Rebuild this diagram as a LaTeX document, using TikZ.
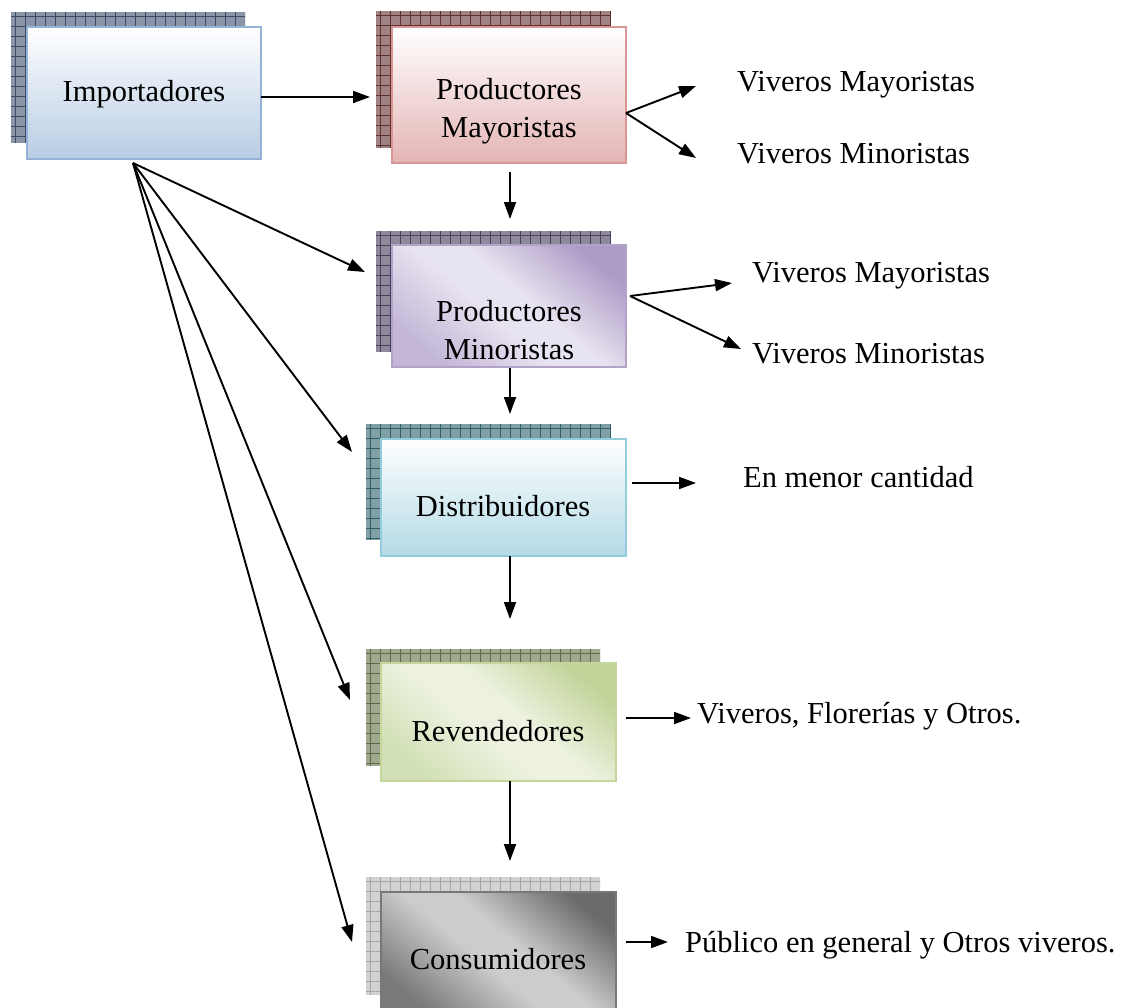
\documentclass[tikz,border=0pt]{standalone}
\usepackage{fontspec}
\setmainfont{Liberation Serif}
\usetikzlibrary{arrows.meta}
\definecolor{impS}{HTML}{8A96A8}\definecolor{impL}{HTML}{3B4A66}
\definecolor{pmS}{HTML}{A08282}\definecolor{pmL}{HTML}{5E2F2F}
\definecolor{pnS}{HTML}{8E8A9B}\definecolor{pnL}{HTML}{4A3D5E}
\definecolor{diS}{HTML}{80A0A6}\definecolor{diL}{HTML}{2F5F66}
\definecolor{reS}{HTML}{A0A890}\definecolor{reL}{HTML}{5B6A40}
\definecolor{coS}{HTML}{D2D2D2}\definecolor{coL}{HTML}{A5A5A5}
\pgfdeclareverticalshading{pminshade}{100bp}{%
  rgb(0bp)=(0.76,0.71,0.84); rgb(24bp)=(0.76,0.71,0.84); rgb(45bp)=(0.91,0.89,0.94);
  rgb(55bp)=(0.91,0.89,0.94); rgb(76bp)=(0.68,0.61,0.78); rgb(100bp)=(0.68,0.61,0.78)}
\pgfdeclareverticalshading{revshade}{100bp}{%
  rgb(0bp)=(0.82,0.88,0.71); rgb(24bp)=(0.82,0.88,0.71); rgb(45bp)=(0.93,0.95,0.88);
  rgb(55bp)=(0.93,0.95,0.88); rgb(76bp)=(0.76,0.83,0.60); rgb(100bp)=(0.76,0.83,0.60)}
\pgfdeclareverticalshading{conshade}{100bp}{%
  rgb(0bp)=(0.48,0.48,0.48); rgb(24bp)=(0.48,0.48,0.48); rgb(45bp)=(0.80,0.80,0.80);
  rgb(55bp)=(0.80,0.80,0.80); rgb(76bp)=(0.42,0.42,0.42); rgb(100bp)=(0.42,0.42,0.42)}
\newcommand\shadowgrid[6]{%
  \fill[#5] (#1,#2) rectangle (#3,#4);
  \begin{scope}
    \clip (#1,#2) rectangle (#3,#4);
    \foreach \i in {0,...,24} \draw[#6, line width=0.9pt] (#1+4+\i*10,#2) -- (#1+4+\i*10,#4);
    \foreach \i in {0,...,14} \draw[#6, line width=0.9pt] (#1,#2+4+\i*10) -- (#3,#2+4+\i*10);
  \end{scope}}
\begin{document}
\begin{tikzpicture}[x=1pt,y=-1pt,
  txt/.style={font=\fontsize{30.5}{38}\selectfont, inner sep=0pt, align=center},
  boxn/.style={draw, line width=2.2pt, minimum width=#1, inner sep=0pt},
  arr/.style={line width=1.9pt, -{Triangle[length=17pt,width=12pt]}}]
\useasboundingbox (0,0) rectangle (1127,1007);
% shadows
\shadowgrid{11}{12}{245}{143}{impS}{impL}
\shadowgrid{376}{11}{611}{148}{pmS}{pmL}
\shadowgrid{376}{231}{611}{352}{pnS}{pnL}
\shadowgrid{366}{424}{611}{540}{diS}{diL}
\shadowgrid{366}{649}{600}{766}{reS}{reL}
\shadowgrid{366}{877}{600}{995}{coS}{coL}
% front boxes
\node[boxn=234pt, minimum height=132pt, draw={rgb,255:red,149;green,179;blue,215}, top color=white, bottom color={rgb,255:red,184;green,204;blue,228}] (imp) at (144,93) {};
\node[boxn=234pt, minimum height=136pt, draw={rgb,255:red,217;green,150;blue,148}, top color=white, bottom color={rgb,255:red,228;green,180;blue,180}] (pma) at (509,95) {};
\node[boxn=234pt, minimum height=122pt, draw={rgb,255:red,179;green,162;blue,199}, shading=pminshade, shading angle=-40] (pmi) at (509,306) {};
\node[boxn=245pt, minimum height=117pt, draw={rgb,255:red,147;green,205;blue,221}, top color=white, bottom color={rgb,255:red,180;green,219;blue,230}] (dis) at (503.5,497.5) {};
\node[boxn=235pt, minimum height=118pt, draw={rgb,255:red,195;green,214;blue,155}, shading=revshade, shading angle=-40] (rev) at (498.5,722) {};
\node[boxn=235pt, minimum height=120pt, draw={rgb,255:red,120;green,120;blue,120}, shading=conshade, shading angle=-40] (con) at (498.5,952) {};
% box texts
\node[txt] (impt) at (144,94) {Importadores};
\node[txt] (pmat) at (509,111) {Productores\\Mayoristas};
\node[txt] (pmit) at (509,330) {Productores\\Minoristas};
\node[txt] (dist) at (503,506) {Distribuidores};
\node[txt] (revt) at (498,731) {Revendedores};
\node[txt] (cont) at (498,959) {Consumidores};
% right-hand texts
\node[txt, anchor=west] (v1) at (737,85) {Viveros Mayoristas};
\node[txt, anchor=west] (v2) at (737,154) {Viveros Minoristas};
\node[txt, anchor=west] (v3) at (752,276) {Viveros Mayoristas};
\node[txt, anchor=west] (v4) at (752,354) {Viveros Minoristas};
\node[txt, anchor=west] (emc) at (743,477) {En menor cantidad};
\node[txt, anchor=west] (vfo) at (697,716) {Viveros, Florerías y Otros.};
\node[txt, anchor=west] (pub) at (685,945) {Público en general y Otros viveros.};
% connector endpoints
\coordinate (imp-e) at (261,97);
\coordinate (pma-w) at (370,97);
\coordinate (imp-s) at (133,163);
\coordinate (pmi-w) at (365,272);
\coordinate (dis-w) at (352,452);
\coordinate (rev-w) at (350,700);
\coordinate (con-w) at (352,942);
\coordinate (pma-e) at (626,113);
\coordinate (v1-w) at (696,86);
\coordinate (v2-w) at (696,158);
\coordinate (pma-s) at (510,172);
\coordinate (pmi-n) at (510,219);
\coordinate (pmi-e) at (630,296);
\coordinate (v3-w) at (732,283);
\coordinate (v4-w) at (741,349);
\coordinate (pmi-s) at (510,368);
\coordinate (dis-n) at (510,414);
\coordinate (dis-e) at (632,483);
\coordinate (emc-w) at (696,483);
\coordinate (dis-s) at (510,556);
\coordinate (rev-n) at (510,619);
\coordinate (rev-e) at (626,718);
\coordinate (vfo-w) at (691,718);
\coordinate (rev-s) at (510,781);
\coordinate (con-n) at (510,861);
\coordinate (con-e) at (626,942);
\coordinate (pub-w) at (668,942);
% connectors
\draw[arr] (imp-e) -- (pma-w);
\draw[arr] (imp-s) -- (pmi-w);
\draw[arr] (imp-s) -- (dis-w);
\draw[arr] (imp-s) -- (rev-w);
\draw[arr] (imp-s) -- (con-w);
\draw[arr] (pma-e) -- (v1-w);
\draw[arr] (pma-e) -- (v2-w);
\draw[arr] (pma-s) -- (pmi-n);
\draw[arr] (pmi-e) -- (v3-w);
\draw[arr] (pmi-e) -- (v4-w);
\draw[arr] (pmi-s) -- (dis-n);
\draw[arr] (dis-e) -- (emc-w);
\draw[arr] (dis-s) -- (rev-n);
\draw[arr] (rev-e) -- (vfo-w);
\draw[arr] (rev-s) -- (con-n);
\draw[arr] (con-e) -- (pub-w);
\end{tikzpicture}
\end{document}
